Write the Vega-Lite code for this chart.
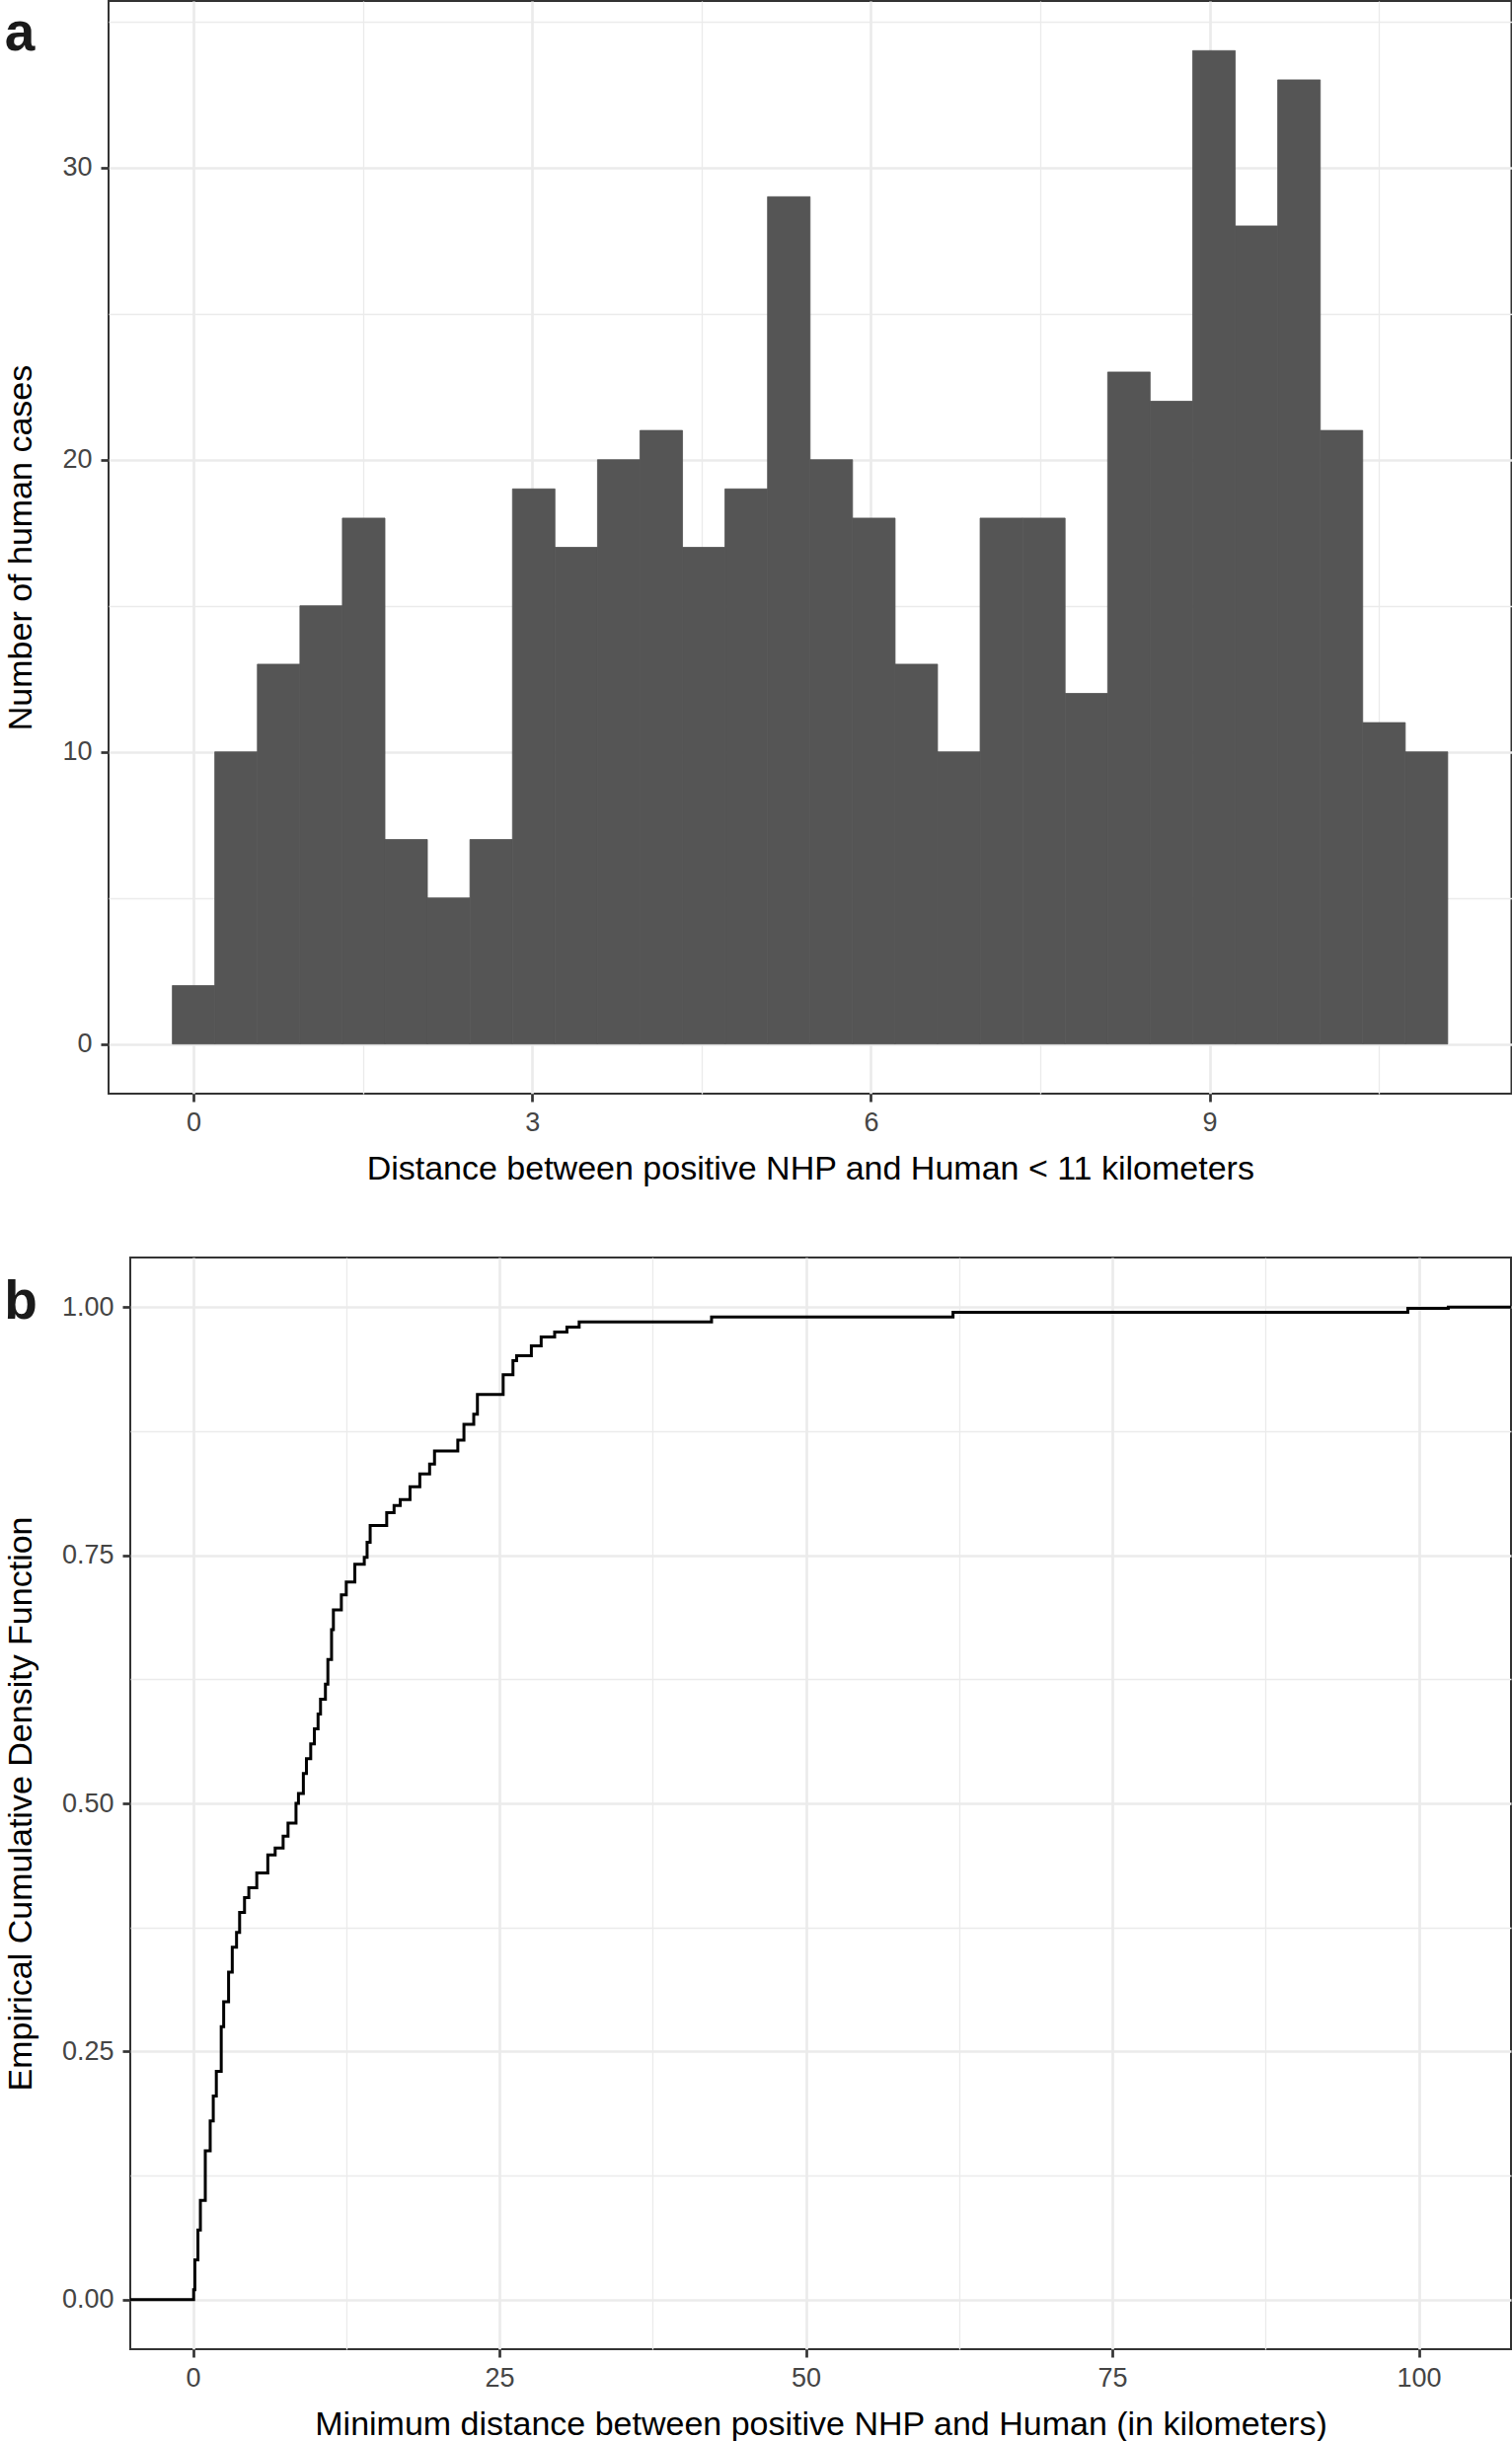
{
  "$schema": "https://vega.github.io/schema/vega-lite/v6.json",
  "background": "white",
  "padding": {"left": 2, "right": 2, "top": 0, "bottom": 1},
  "autosize": {"type": "pad"},
  "config": {
    "font": "Liberation Sans",
    "view": {"stroke": "#333333", "strokeWidth": 2},
    "axis": {
      "domain": false,
      "tickColor": "#333333",
      "tickWidth": 2.7,
      "tickSize": 8,
      "labelFont": "Liberation Sans",
      "labelFontSize": 27,
      "labelColor": "#454545",
      "labelPadding": 8,
      "titleFont": "Liberation Sans",
      "titleFontSize": 34,
      "titleFontWeight": "normal",
      "titleColor": "#000000",
      "gridColor": "#EBEBEB",
      "labelOverlap": false
    },
    "axisX": {"titlePadding": 17},
    "axisY": {"titlePadding": 31.3, "titleBaseline": "alphabetic", "labelPadding": 9},
    "title": {"font": "Liberation Sans", "fontSize": 55, "fontWeight": "bold", "anchor": "start", "frame": "bounds", "color": "#1A1A1A", "baseline": "alphabetic"}
  },
  "concat": [
    {
      "width": 1,
      "height": 1,
      "view": {"stroke": null, "fill": null},
      "data": {"values": [{"v": 0}]},
      "mark": {"type": "point", "size": 0, "opacity": 0},
      "encoding": {}
    },
    {
      "width": 1421.5,
      "height": 1107,
      "title": {"text": "a", "offset": -61.5},
      "data": {"values": [
        {"bin_start": -0.188, "bin_end": 0.188, "count": 2},
        {"bin_start": 0.188, "bin_end": 0.565, "count": 10},
        {"bin_start": 0.565, "bin_end": 0.942, "count": 13},
        {"bin_start": 0.942, "bin_end": 1.318, "count": 15},
        {"bin_start": 1.318, "bin_end": 1.695, "count": 18},
        {"bin_start": 1.695, "bin_end": 2.071, "count": 7},
        {"bin_start": 2.071, "bin_end": 2.448, "count": 5},
        {"bin_start": 2.448, "bin_end": 2.825, "count": 7},
        {"bin_start": 2.825, "bin_end": 3.201, "count": 19},
        {"bin_start": 3.201, "bin_end": 3.578, "count": 17},
        {"bin_start": 3.578, "bin_end": 3.954, "count": 20},
        {"bin_start": 3.954, "bin_end": 4.331, "count": 21},
        {"bin_start": 4.331, "bin_end": 4.707, "count": 17},
        {"bin_start": 4.707, "bin_end": 5.084, "count": 19},
        {"bin_start": 5.084, "bin_end": 5.461, "count": 29},
        {"bin_start": 5.461, "bin_end": 5.837, "count": 20},
        {"bin_start": 5.837, "bin_end": 6.214, "count": 18},
        {"bin_start": 6.214, "bin_end": 6.590, "count": 13},
        {"bin_start": 6.590, "bin_end": 6.967, "count": 10},
        {"bin_start": 6.967, "bin_end": 7.344, "count": 18},
        {"bin_start": 7.344, "bin_end": 7.720, "count": 18},
        {"bin_start": 7.720, "bin_end": 8.097, "count": 12},
        {"bin_start": 8.097, "bin_end": 8.473, "count": 23},
        {"bin_start": 8.473, "bin_end": 8.850, "count": 22},
        {"bin_start": 8.850, "bin_end": 9.227, "count": 34},
        {"bin_start": 9.227, "bin_end": 9.603, "count": 28},
        {"bin_start": 9.603, "bin_end": 9.980, "count": 33},
        {"bin_start": 9.980, "bin_end": 10.356, "count": 21},
        {"bin_start": 10.356, "bin_end": 10.733, "count": 11},
        {"bin_start": 10.733, "bin_end": 11.109, "count": 10}
      ]},
      "mark": {"type": "bar", "color": "#555555", "stroke": "#555555", "strokeWidth": 0.8},
      "encoding": {
        "x": {
          "field": "bin_start", "type": "quantitative",
          "title": "Distance between positive NHP and Human < 11 kilometers",
          "scale": {"domain": [-0.753, 11.674], "nice": false, "zero": false},
          "axis": {
            "values": [0, 1.5, 3, 4.5, 6, 7.5, 9, 10.5],
            "labelExpr": "datum.value % 3 === 0 ? datum.label : ''",
            "tickOpacity": {"condition": {"test": "datum.value % 3 === 0", "value": 1}, "value": 0},
            "gridWidth": {"condition": {"test": "datum.value % 3 === 0", "value": 2.7}, "value": 1.3}
          }
        },
        "x2": {"field": "bin_end"},
        "y": {
          "field": "count", "type": "quantitative",
          "title": "Number of human cases",
          "scale": {"domain": [-1.7, 35.7], "nice": false, "zero": false},
          "axis": {
            "values": [0, 5, 10, 15, 20, 25, 30, 35],
            "labelExpr": "datum.value % 10 === 0 ? datum.label : ''",
            "tickOpacity": {"condition": {"test": "datum.value % 10 === 0", "value": 1}, "value": 0},
            "gridWidth": {"condition": {"test": "datum.value % 10 === 0", "value": 2.7}, "value": 1.3}
          }
        },
        "y2": {"datum": 0}
      }
    },
    {
      "width": 1,
      "height": 1,
      "view": {"stroke": null, "fill": null},
      "data": {"values": [{"v": 0}]},
      "mark": {"type": "point", "size": 0, "opacity": 0},
      "encoding": {}
    },
    {
      "width": 1399,
      "height": 1106,
      "title": {"text": "b", "offset": -73.5},
      "data": {"values": [
        {"dist": -10, "F": 0},
        {"dist": 0.05, "F": 0.01},
        {"dist": 0.15, "F": 0.04},
        {"dist": 0.4, "F": 0.07},
        {"dist": 0.6, "F": 0.10},
        {"dist": 1.0, "F": 0.15},
        {"dist": 1.4, "F": 0.18},
        {"dist": 1.65, "F": 0.205},
        {"dist": 1.9, "F": 0.23},
        {"dist": 2.3, "F": 0.275},
        {"dist": 2.5, "F": 0.30},
        {"dist": 2.9, "F": 0.33},
        {"dist": 3.2, "F": 0.355},
        {"dist": 3.55, "F": 0.37},
        {"dist": 3.8, "F": 0.39},
        {"dist": 4.2, "F": 0.405},
        {"dist": 4.55, "F": 0.415},
        {"dist": 5.2, "F": 0.43},
        {"dist": 6.1, "F": 0.448},
        {"dist": 6.7, "F": 0.455},
        {"dist": 7.35, "F": 0.467},
        {"dist": 7.75, "F": 0.48},
        {"dist": 8.4, "F": 0.50},
        {"dist": 8.6, "F": 0.51},
        {"dist": 9.0, "F": 0.53},
        {"dist": 9.25, "F": 0.545},
        {"dist": 9.6, "F": 0.56},
        {"dist": 9.9, "F": 0.575},
        {"dist": 10.2, "F": 0.59},
        {"dist": 10.4, "F": 0.605},
        {"dist": 10.8, "F": 0.62},
        {"dist": 11.0, "F": 0.645},
        {"dist": 11.3, "F": 0.675},
        {"dist": 11.45, "F": 0.695},
        {"dist": 12.1, "F": 0.71},
        {"dist": 12.5, "F": 0.723},
        {"dist": 13.2, "F": 0.741},
        {"dist": 13.97, "F": 0.748},
        {"dist": 14.2, "F": 0.763},
        {"dist": 14.45, "F": 0.78},
        {"dist": 15.8, "F": 0.793},
        {"dist": 16.4, "F": 0.80},
        {"dist": 16.9, "F": 0.806},
        {"dist": 17.7, "F": 0.819},
        {"dist": 18.5, "F": 0.832},
        {"dist": 19.3, "F": 0.842},
        {"dist": 19.7, "F": 0.855},
        {"dist": 21.6, "F": 0.866},
        {"dist": 22.1, "F": 0.882},
        {"dist": 22.9, "F": 0.892},
        {"dist": 23.2, "F": 0.912},
        {"dist": 25.3, "F": 0.932},
        {"dist": 26.1, "F": 0.946},
        {"dist": 26.4, "F": 0.951},
        {"dist": 27.6, "F": 0.961},
        {"dist": 28.4, "F": 0.970},
        {"dist": 29.5, "F": 0.975},
        {"dist": 30.5, "F": 0.98},
        {"dist": 31.5, "F": 0.985},
        {"dist": 42.3, "F": 0.99},
        {"dist": 62.0, "F": 0.9947},
        {"dist": 99.1, "F": 0.9987},
        {"dist": 102.4, "F": 1.0},
        {"dist": 120, "F": 1.0}
      ]},
      "mark": {"type": "line", "interpolate": "step-after", "color": "#000000", "strokeWidth": 3, "clip": true},
      "encoding": {
        "x": {
          "field": "dist", "type": "quantitative",
          "title": "Minimum distance between positive NHP and Human (in kilometers)",
          "scale": {"domain": [-5.12, 107.52], "nice": false, "zero": false},
          "axis": {
            "values": [0, 12.5, 25, 37.5, 50, 62.5, 75, 87.5, 100],
            "labelExpr": "datum.value % 25 === 0 ? datum.label : ''",
            "tickOpacity": {"condition": {"test": "datum.value % 25 === 0", "value": 1}, "value": 0},
            "gridWidth": {"condition": {"test": "datum.value % 25 === 0", "value": 2.7}, "value": 1.3}
          }
        },
        "y": {
          "field": "F", "type": "quantitative",
          "title": "Empirical Cumulative Density Function",
          "scale": {"domain": [-0.05, 1.05], "nice": false, "zero": false},
          "axis": {
            "values": [0, 0.125, 0.25, 0.375, 0.5, 0.625, 0.75, 0.875, 1],
            "format": ".2f",
            "labelExpr": "round(datum.value * 8) % 2 === 0 ? datum.label : ''",
            "tickOpacity": {"condition": {"test": "round(datum.value * 8) % 2 === 0", "value": 1}, "value": 0},
            "gridWidth": {"condition": {"test": "round(datum.value * 8) % 2 === 0", "value": 2.7}, "value": 1.3}
          }
        }
      }
    }
  ],
  "columns": 2,
  "align": "none",
  "spacing": {"row": 71, "column": 0}
}
